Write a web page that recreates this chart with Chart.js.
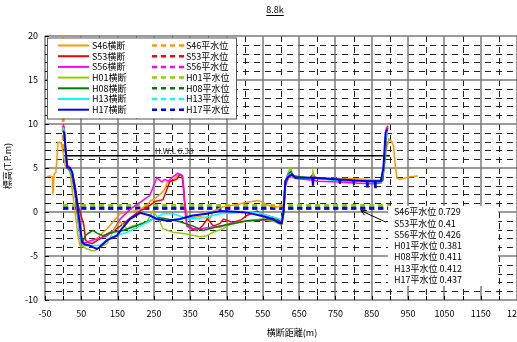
<!DOCTYPE html>
<html>
<head>
<meta charset="utf-8">
<script src="https://cdn.jsdelivr.net/npm/chart.js@4.4.0/dist/chart.umd.min.js"></script>
<style>
html, body { margin: 0; padding: 0; background: #fff; overflow: hidden; width: 517px; height: 342px; }
</style>
</head>
<body>
<canvas id="chart" width="540" height="342"></canvas>
<script>
// ---- data ----
const title = '8.8k';
const xTitle = '横断距離(m)';
const yTitle = '標高(T.P.m)';

const sectionNames = ['S46横断', 'S53横断', 'S56横断', 'H01横断', 'H08横断', 'H13横断', 'H17横断'];
const waterNames = ['S46平水位', 'S53平水位', 'S56平水位', 'H01平水位', 'H08平水位', 'H13平水位', 'H17平水位'];
const waterText = ['0.729', '0.41', '0.426', '0.381', '0.411', '0.412', '0.437'];
const colors = ['#FF9900', '#FF0000', '#FF00FF', '#99CC00', '#008000', '#00FFFF', '#0000FF'];

// [distance, elevation]
const s46 = [[-45,4.0],[-36,4.1],[-30,4.0],[-28,2.0],[-25,4.3],[-20,4.5],[-14,7.9],[-6,7.9],[0,6.8],[5,5.3],[11,5.1],[19,4.5],[25,2.5],[33,0],[40,-2.5],[46,-3.8],[55,-3.9],[66,-3.5],[80,-3.2],[93,-3.0],[110,-2.3],[121,-1.9],[140,-1.0],[157,-0.2],[184,0],[212,0.3],[231,0.8],[239,1.2],[255,1.6],[267,2.0],[280,2.6],[287,3.4],[300,3.5],[314,4.1],[325,4.2],[330,4.0],[335,1.0],[344,-0.8],[360,-0.6],[377,-0.5],[395,-0.7],[404,-0.8],[414,0.1],[424,0.3],[440,0.6],[460,0.7],[485,0.9],[506,1.1],[537,1.3],[550,1.1],[561,0.8],[580,0.6],[597,0.6],[606,0.8],[612,3.5],[620,4.0],[630,3.9],[650,3.8],[700,3.9],[760,3.8],[800,3.8],[840,3.7],[870,3.6],[880,3.8],[890,7.0],[897,8.3],[905,8.0],[910,7.5],[914,5.6],[919,3.9],[927,3.7],[955,4.0],[977,4.1]];
const s53 = [[0,9.8],[3,9.3],[6,7.5],[11,5.2],[19,5.0],[25,4.5],[33,3.0],[40,1.0],[52,-0.8],[57,-1.5],[62,-3.2],[70,-3.5],[80,-3.6],[95,-3.2],[110,-2.8],[121,-2.5],[140,-2.1],[157,-1.6],[175,-1.0],[193,-0.4],[215,0.2],[231,0.5],[253,1.2],[275,1.4],[294,3.5],[313,3.7],[322,4.3],[328,4.1],[331,3.0],[338,-0.5],[341,-1.6],[357,-2.0],[369,-2.1],[385,-1.5],[397,-0.8],[404,-1.1],[414,-1.6],[432,-1.3],[441,-0.8],[467,-1.2],[490,-0.9],[506,-0.4],[534,0.1],[545,-0.2],[561,-0.4],[578,-0.6],[589,-0.8],[597,-1.0],[603,-1.2],[608,0],[613,3.5],[620,4.3],[627,4.6],[633,4.1],[644,3.9],[680,3.9],[688,4.3],[695,3.9],[720,3.8],[760,3.6],[800,3.5],[840,3.5],[870,3.4],[880,3.6],[886,6.5],[892,9.3],[895,9.6]];
const s56 = [[0,10.0],[3,9.5],[6,7.0],[11,5.3],[19,5.1],[25,4.3],[33,2.5],[40,0.5],[46,-1.5],[52,-3.4],[60,-3.5],[66,-3.4],[80,-3.2],[101,-3.0],[121,-2.7],[140,-2.0],[157,-0.8],[184,0.3],[212,1.1],[239,1.9],[258,3.9],[272,3.4],[280,3.7],[290,3.5],[300,3.9],[316,4.4],[327,4.1],[331,3.0],[336,0],[341,-1.4],[357,-1.9],[380,-1.9],[410,-1.7],[432,-1.7],[460,-1.3],[490,-1.1],[520,-1.0],[550,-0.9],[580,-1.0],[600,-1.2],[606,0],[612,3.0],[620,3.8],[630,4.2],[640,3.8],[690,3.6],[700,3.5],[760,3.4],[800,3.3],[850,3.2],[875,3.3],[882,5.0],[890,9.5],[895,9.8]];
const h01 = [[0,9.5],[3,9.0],[6,7.0],[11,5.0],[19,4.8],[25,4.0],[33,2.0],[40,-0.5],[46,-2.5],[52,-3.9],[66,-4.2],[80,-4.4],[88,-4.4],[101,-4.0],[121,-3.6],[140,-2.0],[157,-1.1],[176,-1.9],[190,-1.6],[210,-1.4],[231,-1.1],[247,0.1],[255,-0.3],[265,-1.0],[275,-1.9],[303,-2.3],[341,-2.5],[377,-2.8],[396,-2.7],[413,-2.3],[440,-1.9],[460,-1.4],[506,-1.0],[550,-0.8],[590,-1.2],[600,-1.5],[606,0],[612,3.5],[620,4.5],[626,5.0],[633,4.2],[650,3.9],[686,3.9],[688,4.6],[692,3.9],[750,3.6],[800,3.5],[860,3.5],[878,3.5],[884,5.5],[890,9.0],[894,9.2]];
const h08 = [[0,9.3],[3,8.8],[6,7.0],[11,5.0],[19,4.8],[25,4.0],[33,2.0],[40,-0.5],[46,-2.5],[52,-3.6],[60,-2.8],[66,-2.5],[74,-2.3],[82,-2.1],[93,-2.4],[110,-2.7],[137,-2.3],[165,-2.1],[192,-1.7],[231,-1.1],[258,-0.6],[286,-0.8],[322,-1.1],[358,-1.6],[385,-2.1],[404,-1.9],[432,-1.6],[470,-1.3],[506,-1.0],[540,-0.9],[562,-0.8],[590,-1.0],[602,-1.2],[607,0],[612,3.5],[620,4.3],[627,4.6],[633,4.1],[700,3.8],[760,3.6],[820,3.5],[870,3.5],[880,3.6],[886,6.0],[891,9.0]];
const h13 = [[0,9.6],[3,9.2],[6,7.2],[11,5.1],[19,4.9],[25,4.2],[33,2.3],[40,0],[46,-2.5],[52,-3.5],[60,-3.8],[80,-3.8],[101,-3.8],[121,-3.2],[137,-2.8],[176,-2.3],[212,-1.6],[247,-0.8],[275,-0.2],[303,-0.2],[330,-0.6],[369,-0.8],[413,-0.4],[432,-0.2],[467,-0.1],[513,0],[541,-0.1],[561,-0.4],[590,-0.7],[602,-0.9],[607,0],[612,3.5],[620,4.2],[630,4.4],[640,3.9],[700,3.8],[760,3.6],[830,3.5],[875,3.4],[882,4.5],[889,8.5],[893,9.2]];
const h17 = [[0,9.2],[3,9.0],[6,7.5],[11,5.1],[19,5.0],[25,4.5],[33,2.5],[40,0.5],[46,-1.5],[52,-3.4],[60,-3.7],[72,-3.8],[82,-4.0],[93,-4.2],[100,-4.0],[121,-3.2],[148,-2.7],[162,-1.9],[184,-0.8],[212,-0.1],[239,-0.4],[258,-0.8],[286,-1.0],[322,-0.8],[357,-0.4],[396,-0.2],[432,0.1],[487,0],[510,-0.1],[542,-0.4],[578,-0.8],[592,-1.2],[602,-1.3],[607,0],[612,3.5],[620,4.0],[630,4.3],[640,3.9],[686,3.9],[688,3.0],[690,3.9],[720,3.8],[760,3.7],[762,3.2],[764,3.7],[798,3.6],[800,3.3],[802,3.6],[836,3.5],[837,2.9],[839,3.5],[858,3.5],[859,2.8],[861,3.5],[875,3.5],[882,5.0],[888,9.0],[892,9.4]];
const sections = [s46, s53, s56, h01, h08, h13, h17];

// water levels as drawn: [from, to, level]; S46 shows only as a vertical dash at x=0
const s46Water = [[0,20],[0,6.7]];
const waterFrom = 0, waterTo = 900;
const waterLevels = [null, 0.41, 0.426, 0.73, 0.411, 0.412, 0.437];

const hwl = 6.38;
const hwlLabel = 'H.W.L 6.38';

const FONT = '"Noto Sans CJK JP", "Noto Sans", sans-serif';
const toXY = arr => arr.map(p => ({ x: p[0], y: p[1] }));

const datasets = [];
sections.forEach((d, i) => {
  datasets.push({
    label: sectionNames[i],
    data: toXY(d),
    borderColor: colors[i],
    borderWidth: i === 6 ? 2 : 1.5,
    order: 7 - i,
    kind: 'section'
  });
});
waterNames.forEach((name, i) => {
  const pts = waterLevels[i] === null ? s46Water : [[waterFrom, waterLevels[i]], [waterTo, waterLevels[i]]];
  datasets.push({
    label: name,
    data: toXY(pts),
    borderColor: colors[i],
    borderWidth: 3,
    borderDash: [5, 4],
    order: 20 - i,
    kind: 'water'
  });
});
datasets.push({
  label: 'H.W.L',
  data: toXY([[waterFrom, hwl], [waterTo, hwl]]),
  borderColor: '#000',
  borderWidth: 1.5,
  order: 30,
  kind: 'hwl'
});

function seg(ctx, x1, y1, x2, y2) {
  ctx.beginPath();
  ctx.moveTo(x1, y1);
  ctx.lineTo(x2, y2);
  ctx.stroke();
}

// Excel-like grid: solid every 100 m / 5 m, dashed in between
const gridPlugin = {
  id: 'excelGrid',
  beforeDatasetsDraw(chart) {
    const { ctx, chartArea: a, scales: { x, y } } = chart;
    ctx.save();
    ctx.lineWidth = 1;
    ctx.strokeStyle = '#222';
    ctx.setLineDash([6, 5]);
    for (let v = y.min + 1; v < y.max; v++) {
      if (v % 5 === 0) continue;
      const py = Math.round(y.getPixelForValue(v)) + 0.5;
      seg(ctx, a.left, py, a.right, py);
    }
    for (let v = 0; v < x.max; v += 100) {
      const px = Math.round(x.getPixelForValue(v)) + 0.5;
      seg(ctx, px, a.top, px, a.bottom);
    }
    ctx.setLineDash([]);
    ctx.strokeStyle = '#7a7a7a';
    ctx.lineWidth = 1.5;
    for (let v = y.min; v <= y.max; v += 5) {
      const py = Math.round(y.getPixelForValue(v));
      seg(ctx, a.left, py, a.right, py);
    }
    for (let v = x.min; v <= x.max; v += 100) {
      const px = Math.round(x.getPixelForValue(v));
      seg(ctx, px, a.top, px, a.bottom);
    }
    // tick marks
    ctx.strokeStyle = '#000';
    ctx.lineWidth = 1;
    for (let v = y.min; v <= y.max; v++) {
      const py = Math.round(y.getPixelForValue(v)) + 0.5;
      seg(ctx, a.left, py, a.left + 4, py);
    }
    for (let v = x.min; v <= x.max; v += 50) {
      const px = Math.round(x.getPixelForValue(v)) + 0.5;
      seg(ctx, px, a.bottom, px, a.bottom - 4);
    }
    ctx.restore();
  }
};

// legend box, water level notes, H.W.L label
const notesPlugin = {
  id: 'notes',
  afterDatasetsDraw(chart) {
    const { ctx, chartArea: a, scales: { x, y } } = chart;
    const ds = chart.data.datasets;
    ctx.save();

    // H.W.L label
    ctx.fillStyle = '#333';
    ctx.font = '8px ' + FONT;
    ctx.textBaseline = 'bottom';
    ctx.fillText(hwlLabel, x.getPixelForValue(253), y.getPixelForValue(hwl) - 1);

    // legend
    const bx = a.left + 2, by = a.top + 1.5, bw = 189, bh = 81;
    ctx.fillStyle = '#fff';
    ctx.fillRect(bx, by, bw, bh);
    ctx.strokeStyle = '#555';
    ctx.lineWidth = 1;
    ctx.strokeRect(bx + 0.5, by + 0.5, bw, bh);
    ctx.font = '9px ' + FONT;
    ctx.textBaseline = 'middle';
    ctx.fillStyle = '#000';
    const secs = ds.filter(d => d.kind === 'section');
    const wats = ds.filter(d => d.kind === 'water');
    secs.forEach((d, i) => {
      const ry = by + 8 + i * 10.7;
      ctx.strokeStyle = d.borderColor;
      ctx.lineWidth = 2;
      ctx.setLineDash([]);
      seg(ctx, bx + 11, ry, bx + 42, ry);
      ctx.fillText(d.label, bx + 45, ry);
    });
    wats.forEach((d, i) => {
      const ry = by + 8 + i * 10.7;
      ctx.strokeStyle = d.borderColor;
      ctx.lineWidth = 2.5;
      ctx.setLineDash([5, 4]);
      seg(ctx, bx + 105, ry, bx + 138, ry);
      ctx.setLineDash([]);
      ctx.fillText(d.label, bx + 139, ry);
    });

    // water level notes box
    const nx1 = x.getPixelForValue(895), nx2 = x.getPixelForValue(1198);
    const ny1 = y.getPixelForValue(0.7), ny2 = y.getPixelForValue(-8.4);
    ctx.fillStyle = '#fff';
    ctx.fillRect(nx1, ny1, nx2 - nx1, ny2 - ny1);
    ctx.fillStyle = '#000';
    waterNames.forEach((n, i) => {
      ctx.fillText(n + ' ' + waterText[i], x.getPixelForValue(911), y.getPixelForValue(0 - i * 1.28));
    });

    // arrow to the water level line
    const ax1 = x.getPixelForValue(889), ay1 = y.getPixelForValue(-1.15);
    const ax2 = x.getPixelForValue(820), ay2 = y.getPixelForValue(0.15);
    ctx.strokeStyle = '#000';
    ctx.lineWidth = 1;
    seg(ctx, ax1, ay1, ax2, ay2);
    const ang = Math.atan2(ay1 - ay2, ax1 - ax2);
    seg(ctx, ax2, ay2, ax2 + 6 * Math.cos(ang - 0.45), ay2 + 6 * Math.sin(ang - 0.45));
    seg(ctx, ax2, ay2, ax2 + 6 * Math.cos(ang + 0.45), ay2 + 6 * Math.sin(ang + 0.45));
    ctx.restore();
  },
  afterDraw(chart) {
    const { ctx, chartArea: a } = chart;
    ctx.save();
    ctx.fillStyle = '#000';
    ctx.font = '9px ' + FONT;
    ctx.textAlign = 'center';
    ctx.textBaseline = 'middle';
    // title, underlined
    const tx = 275, ty = 10;
    ctx.fillText(title, tx, ty);
    const tw = ctx.measureText(title).width;
    ctx.lineWidth = 1;
    ctx.strokeStyle = '#000';
    seg(ctx, tx - tw / 2, ty + 5.5, tx + tw / 2, ty + 5.5);
    // axis titles
    ctx.fillText(xTitle, 292, a.bottom + 33);
    ctx.translate(8, (a.top + a.bottom) / 2 - 2);
    ctx.rotate(-Math.PI / 2);
    ctx.fillText(yTitle, 0, 0);
    ctx.restore();
  }
};

new Chart(document.getElementById('chart'), {
  type: 'line',
  data: { datasets },
  options: {
    responsive: false,
    animation: false,
    layout: { padding: { top: 36, right: 23, left: 0, bottom: 0 } },
    elements: { point: { radius: 0 }, line: { tension: 0 } },
    plugins: { legend: { display: false }, tooltip: { enabled: false } },
    scales: {
      x: {
        type: 'linear',
        min: -50,
        max: 1250,
        grid: { display: false, drawTicks: false },
        border: { display: false },
        ticks: {
          stepSize: 100,
          autoSkip: false,
          maxRotation: 0,
          padding: 8,
          color: '#000',
          font: { size: 9, family: FONT },
          callback: v => String(v)
        },
        afterFit(s) { s.height = 42; }
      },
      y: {
        type: 'linear',
        min: -10,
        max: 20,
        grid: { display: false, drawTicks: false },
        border: { display: false },
        ticks: {
          stepSize: 5,
          padding: 7,
          color: '#000',
          font: { size: 9, family: FONT },
          callback: v => String(v)
        },
        afterFit(s) { s.width = 45; }
      }
    }
  },
  plugins: [gridPlugin, notesPlugin]
});
</script>
</body>
</html>
